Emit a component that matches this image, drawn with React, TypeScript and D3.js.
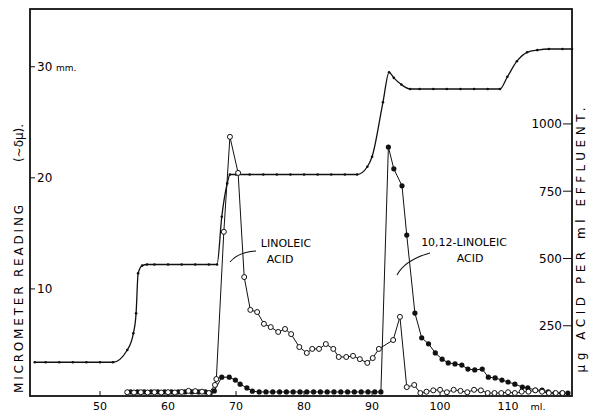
import React, { useEffect, useRef } from "react";
import * as d3 from "d3";

// micrometer reading (mm), left axis
const microMl = [40.4, 42, 44, 46, 48, 50, 51.9, 54.0, 54.9, 55.3, 55.6, 56.2, 56.9, 58, 60, 62, 64, 66, 67.2, 67.9, 68.7, 69.1, 70, 72, 74, 76, 78, 80, 82, 84, 86, 87.8, 89.3, 90.0, 91.6, 92.5, 93.2, 94.3, 95.6, 97, 99, 101, 103, 105, 107, 108.8, 109.9, 111.3, 112.8, 114.3, 116, 118, 119.4];
const microMm = [3.4, 3.4, 3.4, 3.4, 3.4, 3.4, 3.4, 4.5, 6.0, 7.8, 11.4, 12.1, 12.2, 12.2, 12.2, 12.2, 12.2, 12.2, 12.2, 16.5, 19.5, 20.3, 20.3, 20.3, 20.3, 20.3, 20.3, 20.3, 20.3, 20.3, 20.3, 20.3, 21.0, 21.9, 26.8, 29.5, 29.0, 28.4, 28.0, 28.0, 28.0, 28.0, 28.0, 28.0, 28.0, 28.0, 29.1, 30.5, 31.3, 31.5, 31.6, 31.6, 31.6];

// linoleic acid, open circles (ug per ml), right axis
const openMl = [54, 55, 56, 57, 58, 59, 60, 61, 62, 63, 64, 65, 66, 66.9, 67.1, 68.2, 69.1, 70.3, 71.2, 72.1, 73.1, 74.1, 75.1, 76.2, 77.2, 78.1, 79.3, 80.4, 81.2, 82.2, 83.2, 84.3, 85.1, 86.2, 87.2, 88.2, 89.3, 90.1, 91.0, 93.1, 94.1, 95.1, 96.2, 97.1, 98, 99, 100, 101, 102, 103, 104, 105, 106, 107, 108, 109, 110, 111, 112, 113, 114, 115, 116, 117, 118];
const openUg = [3, 2, 3, 2, 3, 2, 3, 2, 4, 8, 7, 5, 0, 30, 52, 599, 952, 818, 431, 309, 301, 257, 245, 227, 238, 219, 171, 149, 164, 164, 182, 164, 134, 134, 138, 126, 112, 130, 164, 197, 283, 22, 30, 0, 5, 10, 12, 3, 12, 8, 3, 12, 10, 0, 0, 0, 3, 0, 5, 5, 10, 5, 0, 0, 0];

// 10,12-linoleic acid, filled circles (ug per ml), right axis
const filledMl = [54.5, 55.5, 56.5, 57.5, 58.5, 59.5, 60.5, 61.5, 62.5, 63.5, 64.5, 65.5, 66.2, 66.8, 67.9, 69.0, 69.9, 70.6, 71.6, 72.4, 73.4, 74.4, 75.4, 76.4, 77.4, 78.4, 79.4, 80.4, 81.4, 82.4, 83.4, 84.4, 85.4, 86.4, 87.4, 88.4, 89.4, 90.4, 91.3, 92.4, 93.2, 94.4, 95.1, 96.3, 97.3, 98.3, 99.3, 100.3, 101.2, 102.2, 103.2, 104.1, 105.1, 106.2, 107.1, 108.1, 109.1, 110.0, 111.0, 112.1, 112.9, 114.0, 115.0, 115.9, 116.9, 117.9, 118.8];
const filledUg = [4, 4, 4, 4, 4, 4, 4, 4, 4, 4, 4, 4, 0, 8, 59, 59, 48, 33, 19, 7, 4, 4, 4, 4, 4, 4, 4, 4, 4, 4, 4, 4, 4, 4, 4, 4, 4, 4, 4, 914, 833, 770, 587, 297, 205, 183, 149, 126, 112, 108, 104, 89, 86, 89, 59, 56, 48, 41, 33, 22, 19, 11, 11, 4, 0, 0, 0];

const xTicks = [50, 60, 70, 80, 90, 100, 110];
const leftTicks = [10, 20, 30];
const rightTicks = [250, 500, 750, 1000];

const W = 589;
const H = 413;
const FONT = "'DejaVu Sans', sans-serif";

export default function App() {
  const ref = useRef<SVGSVGElement>(null);

  useEffect(() => {
    const svg = d3.select(ref.current);
    svg.selectAll("*").remove();

    const left = 30, right = 572, top = 9, bottom = 396;
    const x = d3.scaleLinear().domain([39.7, 119.4]).range([left, right]);
    const yL = d3.scaleLinear().domain([0.36, 35.2]).range([bottom, top]);
    const yR = d3.scaleLinear().domain([-11, 1427]).range([bottom, top]);

    const g = svg.append("g");

    // frame
    g.append("rect")
      .attr("x", left).attr("y", top)
      .attr("width", right - left).attr("height", bottom - top)
      .attr("fill", "none").attr("stroke", "#111").attr("stroke-width", 1.8);

    // x ticks
    xTicks.forEach((t) => {
      g.append("line")
        .attr("x1", x(t)).attr("x2", x(t))
        .attr("y1", bottom).attr("y2", bottom - 5)
        .attr("stroke", "#111");
      g.append("text")
        .attr("x", x(t)).attr("y", 410)
        .attr("text-anchor", "middle")
        .attr("font-family", FONT).attr("font-size", 11)
        .text(t);
    });
    g.append("text").attr("x", 538).attr("y", 410)
      .attr("text-anchor", "middle")
      .attr("font-family", FONT).attr("font-size", 9.5)
      .text("ml.");

    // left ticks
    leftTicks.forEach((t) => {
      g.append("line")
        .attr("x1", left).attr("x2", left + 5)
        .attr("y1", yL(t)).attr("y2", yL(t))
        .attr("stroke", "#111");
      g.append("text")
        .attr("x", left + 7).attr("y", yL(t) + 4.5)
        .attr("font-family", FONT).attr("font-size", 12)
        .text(t);
    });
    g.append("text").attr("x", 56).attr("y", yL(30) + 4.5)
      .attr("font-family", FONT).attr("font-size", 9)
      .text("mm.");

    // right ticks
    rightTicks.forEach((t) => {
      g.append("line")
        .attr("x1", right - 9).attr("x2", right)
        .attr("y1", yR(t)).attr("y2", yR(t))
        .attr("stroke", "#111");
      g.append("text")
        .attr("x", right - 10).attr("y", yR(t) + 4.5)
        .attr("text-anchor", "end")
        .attr("font-family", FONT).attr("font-size", 12)
        .text(t);
    });

    // axis titles
    g.append("text")
      .attr("transform", "translate(23,299) rotate(-90)")
      .attr("text-anchor", "middle")
      .attr("font-family", FONT).attr("font-size", 12)
      .attr("textLength", 188).attr("lengthAdjust", "spacing")
      .text("MICROMETER READING");
    g.append("text")
      .attr("transform", "translate(23,143) rotate(-90)")
      .attr("text-anchor", "middle")
      .attr("font-family", FONT).attr("font-size", 12)
      .text("(~δμ).");
    g.append("text")
      .attr("transform", "translate(585,240) rotate(-90)")
      .attr("text-anchor", "middle")
      .attr("font-family", FONT).attr("font-size", 12)
      .attr("textLength", 265).attr("lengthAdjust", "spacing")
      .text("μg ACID PER ml EFFLUENT.");

    // micrometer curve
    const micro = microMl.map((m, i) => [m, microMm[i]] as [number, number]);
    g.append("path")
      .datum(micro)
      .attr("fill", "none").attr("stroke", "#111").attr("stroke-width", 1.3)
      .attr("d", d3.line<[number, number]>()
        .x((d) => x(d[0])).y((d) => yL(d[1]))
        .curve(d3.curveMonotoneX));
    g.selectAll(".mdot").data(micro).enter().append("circle")
      .attr("cx", (d) => x(d[0])).attr("cy", (d) => yL(d[1]))
      .attr("r", 1.3).attr("fill", "#111");

    // filled series
    const filled = filledMl.map((m, i) => [m, filledUg[i]] as [number, number]);
    const lineR = d3.line<[number, number]>().x((d) => x(d[0])).y((d) => yR(d[1]));
    g.append("path").datum(filled)
      .attr("fill", "none").attr("stroke", "#111").attr("stroke-width", 1)
      .attr("d", lineR);
    g.selectAll(".fdot").data(filled).enter().append("circle")
      .attr("cx", (d) => x(d[0])).attr("cy", (d) => yR(d[1]))
      .attr("r", 2.6).attr("fill", "#111");

    // open series
    const open = openMl.map((m, i) => [m, openUg[i]] as [number, number]);
    g.append("path").datum(open)
      .attr("fill", "none").attr("stroke", "#111").attr("stroke-width", 1)
      .attr("d", lineR);
    g.selectAll(".odot").data(open).enter().append("circle")
      .attr("cx", (d) => x(d[0])).attr("cy", (d) => yR(d[1]))
      .attr("r", 2.5).attr("fill", "#fff").attr("stroke", "#111").attr("stroke-width", 1);

    // annotations
    const ann = [
      { t: "LINOLEIC", x: 286, y: 247 },
      { t: "ACID", x: 280, y: 263 },
      { t: "10,12-LINOLEIC", x: 464, y: 246 },
      { t: "ACID", x: 470, y: 262 },
    ];
    ann.forEach((a) => {
      g.append("text").attr("x", a.x).attr("y", a.y)
        .attr("text-anchor", "middle")
        .attr("font-family", FONT).attr("font-size", 11)
        .text(a.t);
    });
    g.append("path")
      .attr("d", "M230,262 Q238,252 256,251")
      .attr("fill", "none").attr("stroke", "#111").attr("stroke-width", 1.1);
    g.append("path")
      .attr("d", "M397,275 Q405,260 430,253")
      .attr("fill", "none").attr("stroke", "#111").attr("stroke-width", 1.1);
  }, []);

  return (
    <div style={{ position: "absolute", left: 0, top: 0 }}>
      <svg ref={ref} width={W} height={H} style={{ display: "block", background: "#fff" }} />
    </div>
  );
}
